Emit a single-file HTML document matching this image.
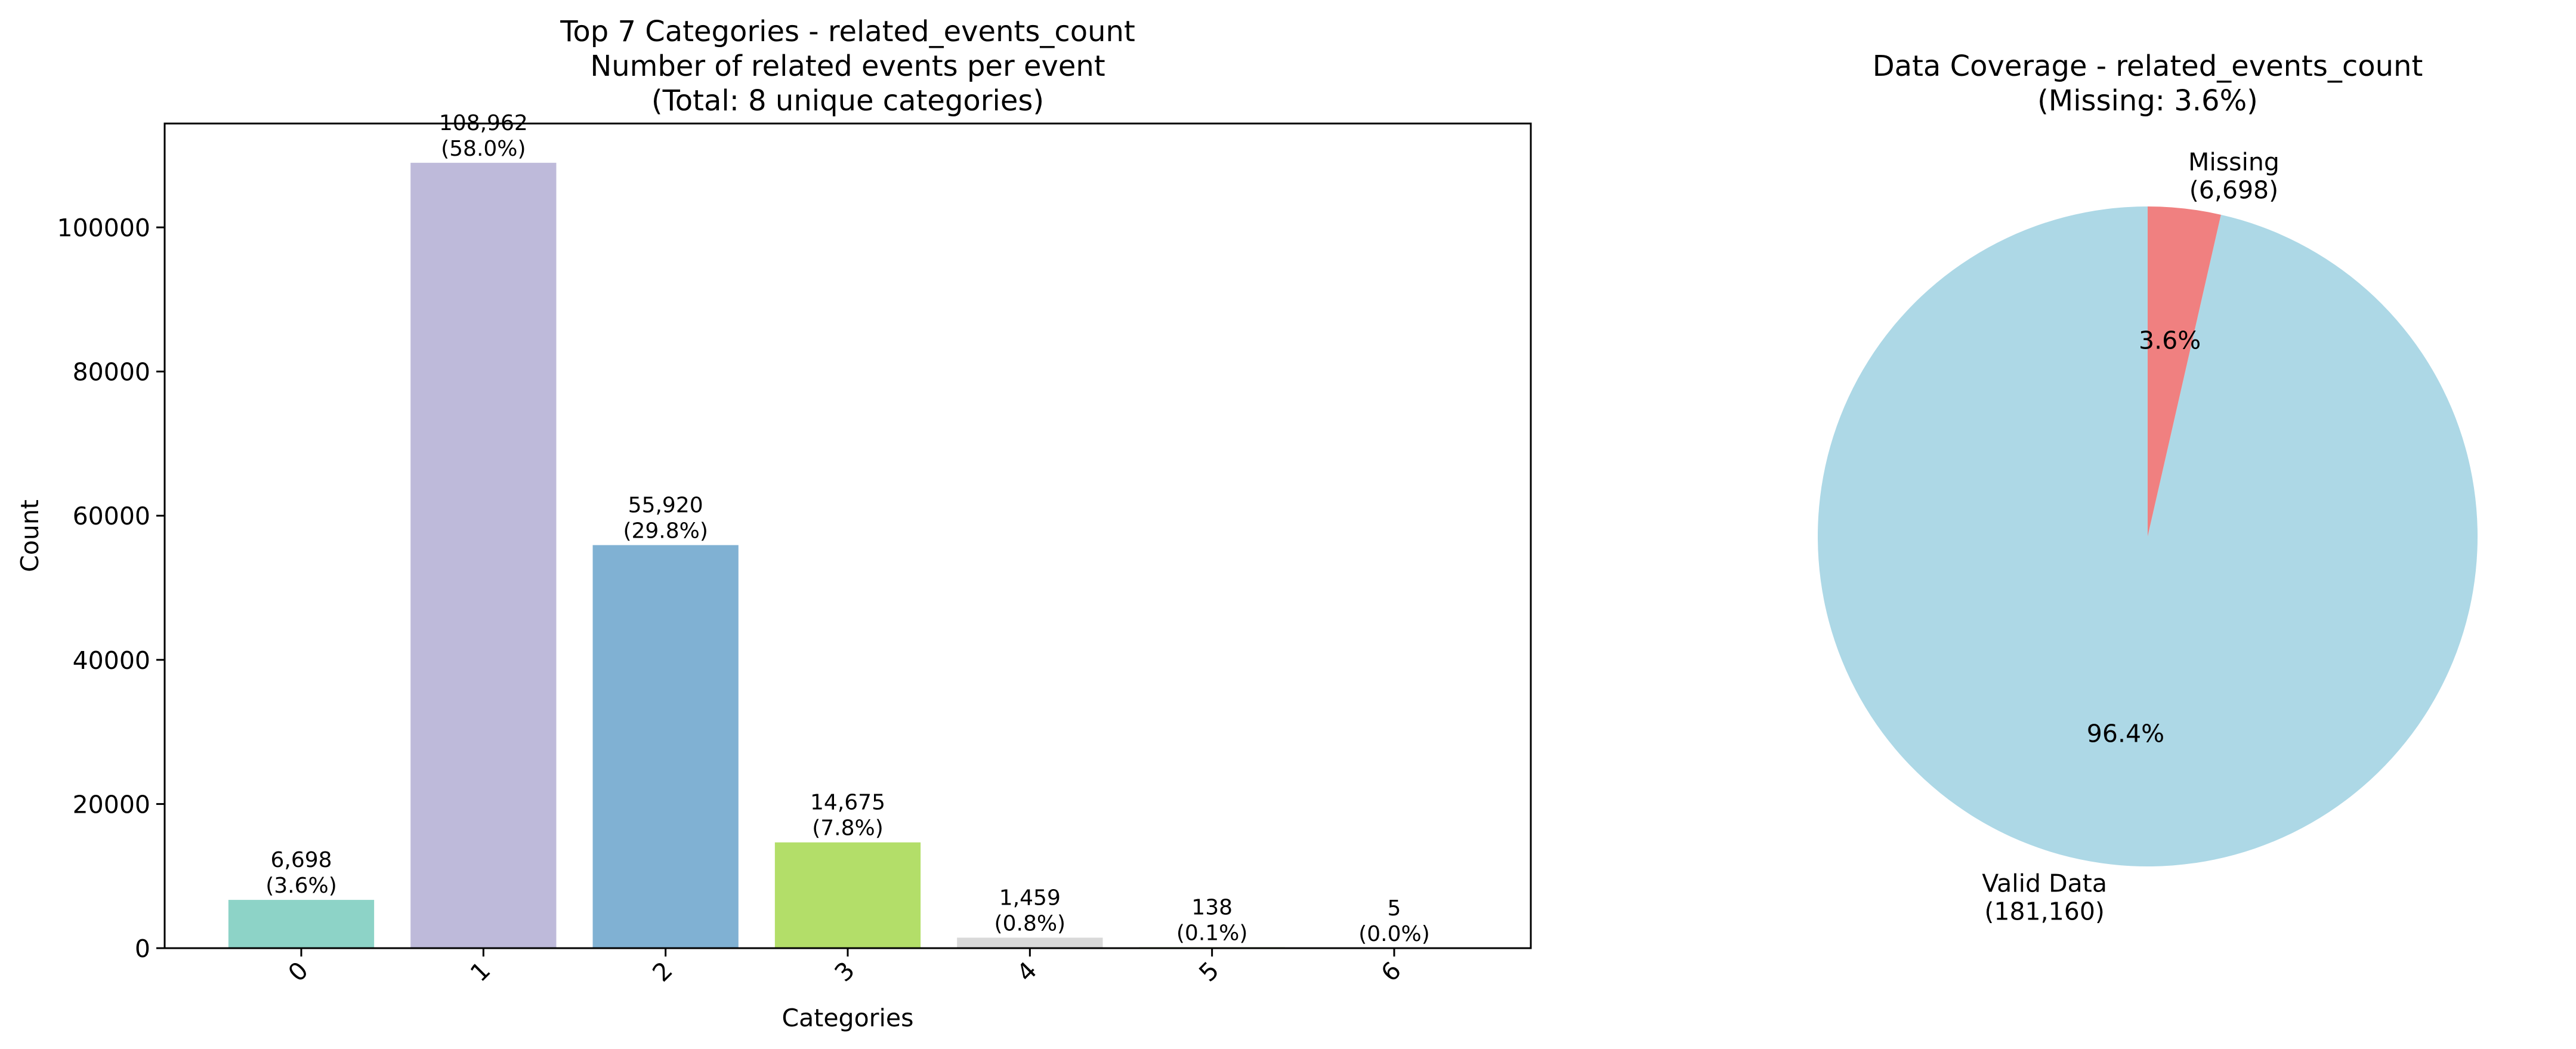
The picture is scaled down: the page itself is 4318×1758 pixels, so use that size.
<!DOCTYPE html>
<html><head><meta charset="utf-8"><style>
html,body{margin:0;padding:0;background:#fff;}
svg text{font-family:"DejaVu Sans","Liberation Sans",sans-serif;fill:#000;}
</style></head>
<body>
<svg id="chart" width="4318" height="1753" viewBox="0 0 4318 1753" xmlns="http://www.w3.org/2000/svg">
<rect width="4318" height="1753" fill="#fff"/>
<g id="bar"></g>
<g id="pie"></g>
</svg>
<script>
const categories = ["0","1","2","3","4","5","6"];
const counts = [6698,108962,55920,14675,1459,138,5];
const percents = ["3.6%","58.0%","29.8%","7.8%","0.8%","0.1%","0.0%"];
const yTicks = [0,20000,40000,60000,80000,100000];
const pieLabels = ["Valid Data","Missing"];
const pieValues = [181160,6698];

const NS="http://www.w3.org/2000/svg";
function mk(tag,attrs,parent,text){const e=document.createElementNS(NS,tag);for(const k in attrs)e.setAttribute(k,attrs[k]);if(text!==undefined)e.textContent=text;parent.appendChild(e);return e;}
const fmt=n=>n.toLocaleString("en-US");

// Bar chart
const bg=document.getElementById("bar");
const L=276,R=2566,T=207,B=1589;
const ymax=Math.max(...counts)*1.05;
const y=v=>B-(v/ymax)*(B-T);
const x=i=>L+(i+0.75)/(categories.length+0.5)*(R-L);
const bw=0.8/(categories.length+0.5)*(R-L);
const colors=["#8dd3c7","#bebada","#80b1d3","#b3de69","#d9d9d9","#b8dd8f","#ccebc5"];
counts.forEach((v,i)=>{
  const r=mk("rect",{x:x(i)-bw/2,y:y(v),width:bw,height:B-y(v),fill:colors[i%colors.length]},bg);
  
  
  const t1=mk("text",{x:x(i),y:y(v)-55,"font-size":36,"text-anchor":"middle"},bg,fmt(v));
  
  
  const t2=mk("text",{x:x(i),y:y(v)-12,"font-size":36,"text-anchor":"middle"},bg,"("+percents[i]+")");
  
  
  mk("line",{x1:x(i),x2:x(i),y1:B,y2:B+14,stroke:"#000","stroke-width":3},bg);
  const tl=mk("text",{x:0,y:0,"font-size":41,"text-anchor":"end",transform:`translate(${x(i)+14},${B+40}) rotate(-45)`},bg,categories[i]);
  
  
});
yTicks.forEach(v=>{
  mk("line",{x1:L-14,x2:L,y1:y(v),y2:y(v),stroke:"#000","stroke-width":3},bg);
  const t=mk("text",{x:L-24,y:y(v)+15,"font-size":41,"text-anchor":"end"},bg,String(v));
  
  
});
const fr=mk("rect",{x:L,y:T,width:R-L,height:B-T,fill:"none",stroke:"#000","stroke-width":3},bg);


const cx=(L+R)/2;
["Top 7 Categories - related_events_count","Number of related events per event","(Total: 8 unique categories)"].forEach((s,i)=>{
  const t=mk("text",{x:cx,y:69+i*58,"font-size":48,"text-anchor":"middle"},bg,s);
  
  
});
const yl=mk("text",{x:0,y:0,"font-size":41,"text-anchor":"middle",transform:`translate(64,${(T+B)/2}) rotate(-90)`},bg,"Count");


const xl=mk("text",{x:cx,y:1720,"font-size":41,"text-anchor":"middle"},bg,"Categories");



// Pie chart
const pg=document.getElementById("pie");
const pcx=3600,pcy=899,pr=553;
const total=pieValues.reduce((a,b)=>a+b,0);
const pcolors=["#add8e6","#f08080"];
let ang=90;
pieValues.forEach((v,i)=>{
  const sweep=v/total*360;
  const a0=ang*Math.PI/180,a1=(ang+sweep)*Math.PI/180;
  const p0=[pcx+pr*Math.cos(a0),pcy-pr*Math.sin(a0)];
  const p1=[pcx+pr*Math.cos(a1),pcy-pr*Math.sin(a1)];
  const large=sweep>180?1:0;
  const p=mk("path",{d:`M${pcx},${pcy} L${p0[0]},${p0[1]} A${pr},${pr} 0 ${large} 0 ${p1[0]},${p1[1]} Z`,fill:pcolors[i]},pg);
  
  
  const mid=(ang+sweep/2)*Math.PI/180;
  const lx=pcx+pr*1.1*Math.cos(mid), ly=pcy-pr*1.1*Math.sin(mid);
  const c=Math.cos(mid);
  const anchor=c>=0?"start":"end";
  const l1=mk("text",{x:lx,y:ly-9,"font-size":41,"text-anchor":anchor},pg,pieLabels[i]);
  
  
  const l2=mk("text",{x:lx+(c>=0?-4:4),y:ly+38,"font-size":41,"text-anchor":"middle"},pg,"("+fmt(v)+")");
  // center second line relative to first line's extent
  const w1=l1.getComputedTextLength();
  l2.setAttribute('x', c>=0 ? lx+w1/2 : lx-w1/2);
  
  
  l1.setAttribute('text-anchor','middle');
  l1.setAttribute('x', c>=0 ? lx+w1/2 : lx-w1/2);
  const ax=pcx+pr*0.6*Math.cos(mid), ay=pcy-pr*0.6*Math.sin(mid);
  const pt=mk("text",{x:ax,y:ay+15,"font-size":41,"text-anchor":"middle"},pg,(v/total*100).toFixed(1)+"%");
  
  
  ang+=sweep;
});
["Data Coverage - related_events_count","(Missing: "+(pieValues[1]/total*100).toFixed(1)+"%)"].forEach((s,i)=>{
  const t=mk("text",{x:pcx,y:127+i*58,"font-size":48,"text-anchor":"middle"},pg,s);
  
  
});
</script>
</body></html>
